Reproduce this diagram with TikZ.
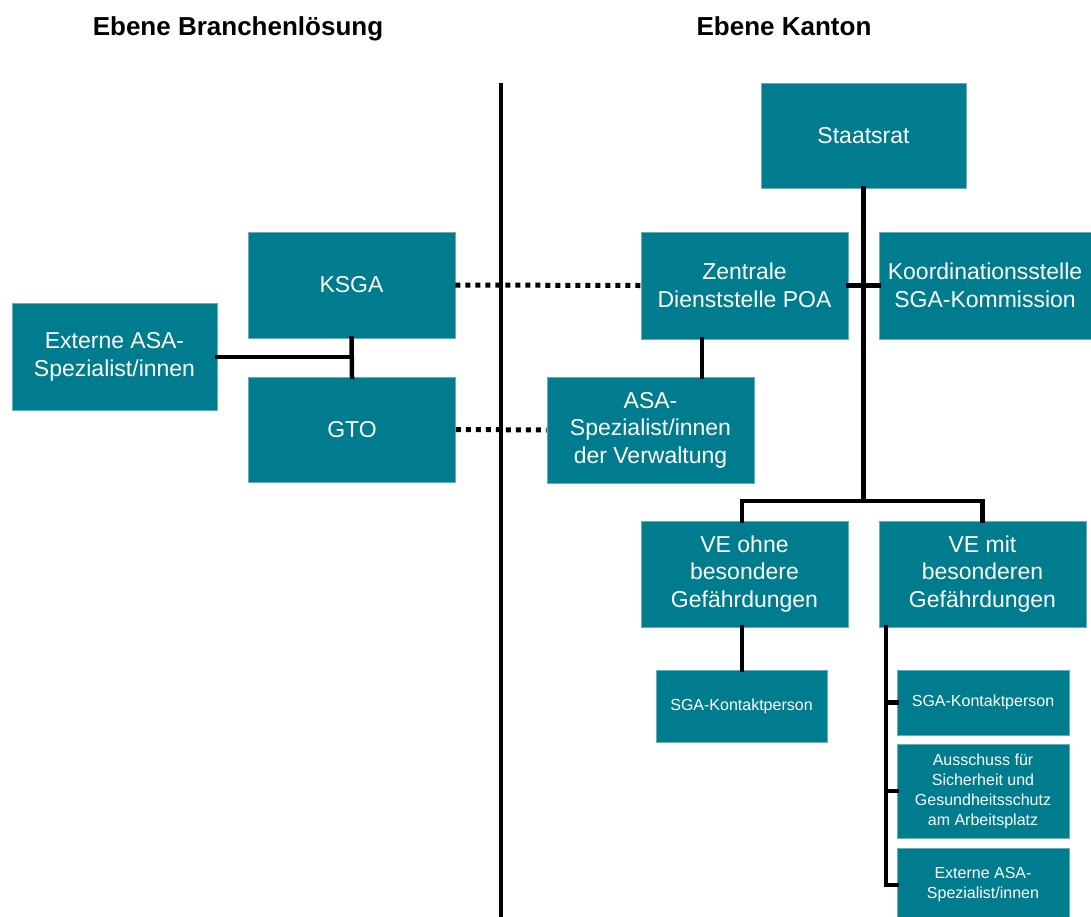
\documentclass[tikz,border=0pt]{standalone}
\usepackage{fontspec}
\setmainfont{Liberation Sans}
\definecolor{boxteal}{RGB}{0,124,143}
\begin{document}
\begin{tikzpicture}[x=1pt,y=-1pt,
  box/.style={fill=boxteal, draw=boxteal!60!white, line width=0.6pt, text=white, inner sep=0pt, align=center,
    font=\fontsize{23}{27.5}\selectfont},
  smallbox/.style={box, font=\fontsize{16}{20}\selectfont},
  conn/.style={line width=4.5pt, line cap=rect},
  dotline/.style={line width=5pt, dash pattern=on 5pt off 5pt},
  header/.style={font=\bfseries\fontsize{26}{30}\selectfont, inner sep=0pt, anchor=base}]
\useasboundingbox (0,0) rectangle (1091,916);

% headers
\node[header] (h1) at (238,35) {Ebene Branchenlösung};
\node[header] (h2) at (784,35) {Ebene Kanton};

% divider
\coordinate (dtop) at (501,83);
\coordinate (dbot) at (501,920);
\draw[line width=4.5pt] (dtop) -- (dbot);

% boxes
\node[box, minimum width=205, minimum height=105] (staat) at (863.5,135.5) {Staatsrat};
\node[box, minimum width=207, minimum height=106] (ksga) at (351.5,285) {KSGA};
\node[box, minimum width=205, minimum height=107] (extL) at (114.5,357) {Externe ASA-\\Spezialist/innen};
\node[box, minimum width=207, minimum height=105] (gto) at (352,429.5) {GTO};
\node[box, minimum width=207, minimum height=107] (zent) at (744.5,285.5) {Zentrale\\Dienststelle POA};
\node[box, minimum width=212, minimum height=107] (koord) at (985,285.5) {Koordinationsstelle\\SGA-Kommission};
\node[box, minimum width=207, minimum height=106] (asav) at (650.5,430) {ASA-\\Spezialist/innen\\der Verwaltung};
\node[box, minimum width=207, minimum height=106] (veo) at (744.5,574) {VE ohne\\besondere\\Gefährdungen};
\node[box, minimum width=207, minimum height=106] (vem) at (982.5,574) {VE mit\\besonderen\\Gefährdungen};
\node[smallbox, minimum width=171, minimum height=72] (sgaL) at (741.5,706) {SGA-Kontaktperson};
\node[smallbox, minimum width=172, minimum height=65] (sgaR) at (983,702.5) {SGA-Kontaktperson};
\node[smallbox, minimum width=172, minimum height=94] (aus) at (983,791) {Ausschuss für\\Sicherheit und\\Gesundheitsschutz\\am Arbeitsplatz};
\node[smallbox, minimum width=172, minimum height=74] (extR) at (983,885) {Externe ASA-\\Spezialist/innen};

% connectors, left side
\draw[conn] (ksga.south) -- (gto.north);
\draw[conn] (extL.east) -- (extL.east -| ksga.south);

% dotted
\draw[dotline] (ksga.east) -- (zent.west);
\draw[dotline] (gto.east) -- (asav.west);

% right side
\coordinate (j) at (863.5,501);
\draw[conn] (staat.south) -- (j);
\draw[conn] (zent.east) -- (koord.west);
\draw[conn] ([xshift=-2.5pt]veo.north) |- (j) -| (vem.north);
\draw[conn] ([xshift=-42.5pt]zent.south) -- ([xshift=-42.5pt]zent.south |- asav.north);
\draw[conn] ([xshift=-2.5pt]veo.south) -- ([xshift=-2.5pt]veo.south |- sgaL.north);
\coordinate (v0) at ([xshift=-96.5pt]vem.south);
\draw[conn] (v0) |- (extR.west);
\draw[conn] (v0 |- sgaR.west) -- (sgaR.west);
\draw[conn] (v0 |- aus.west) -- (aus.west);
\end{tikzpicture}
\end{document}
